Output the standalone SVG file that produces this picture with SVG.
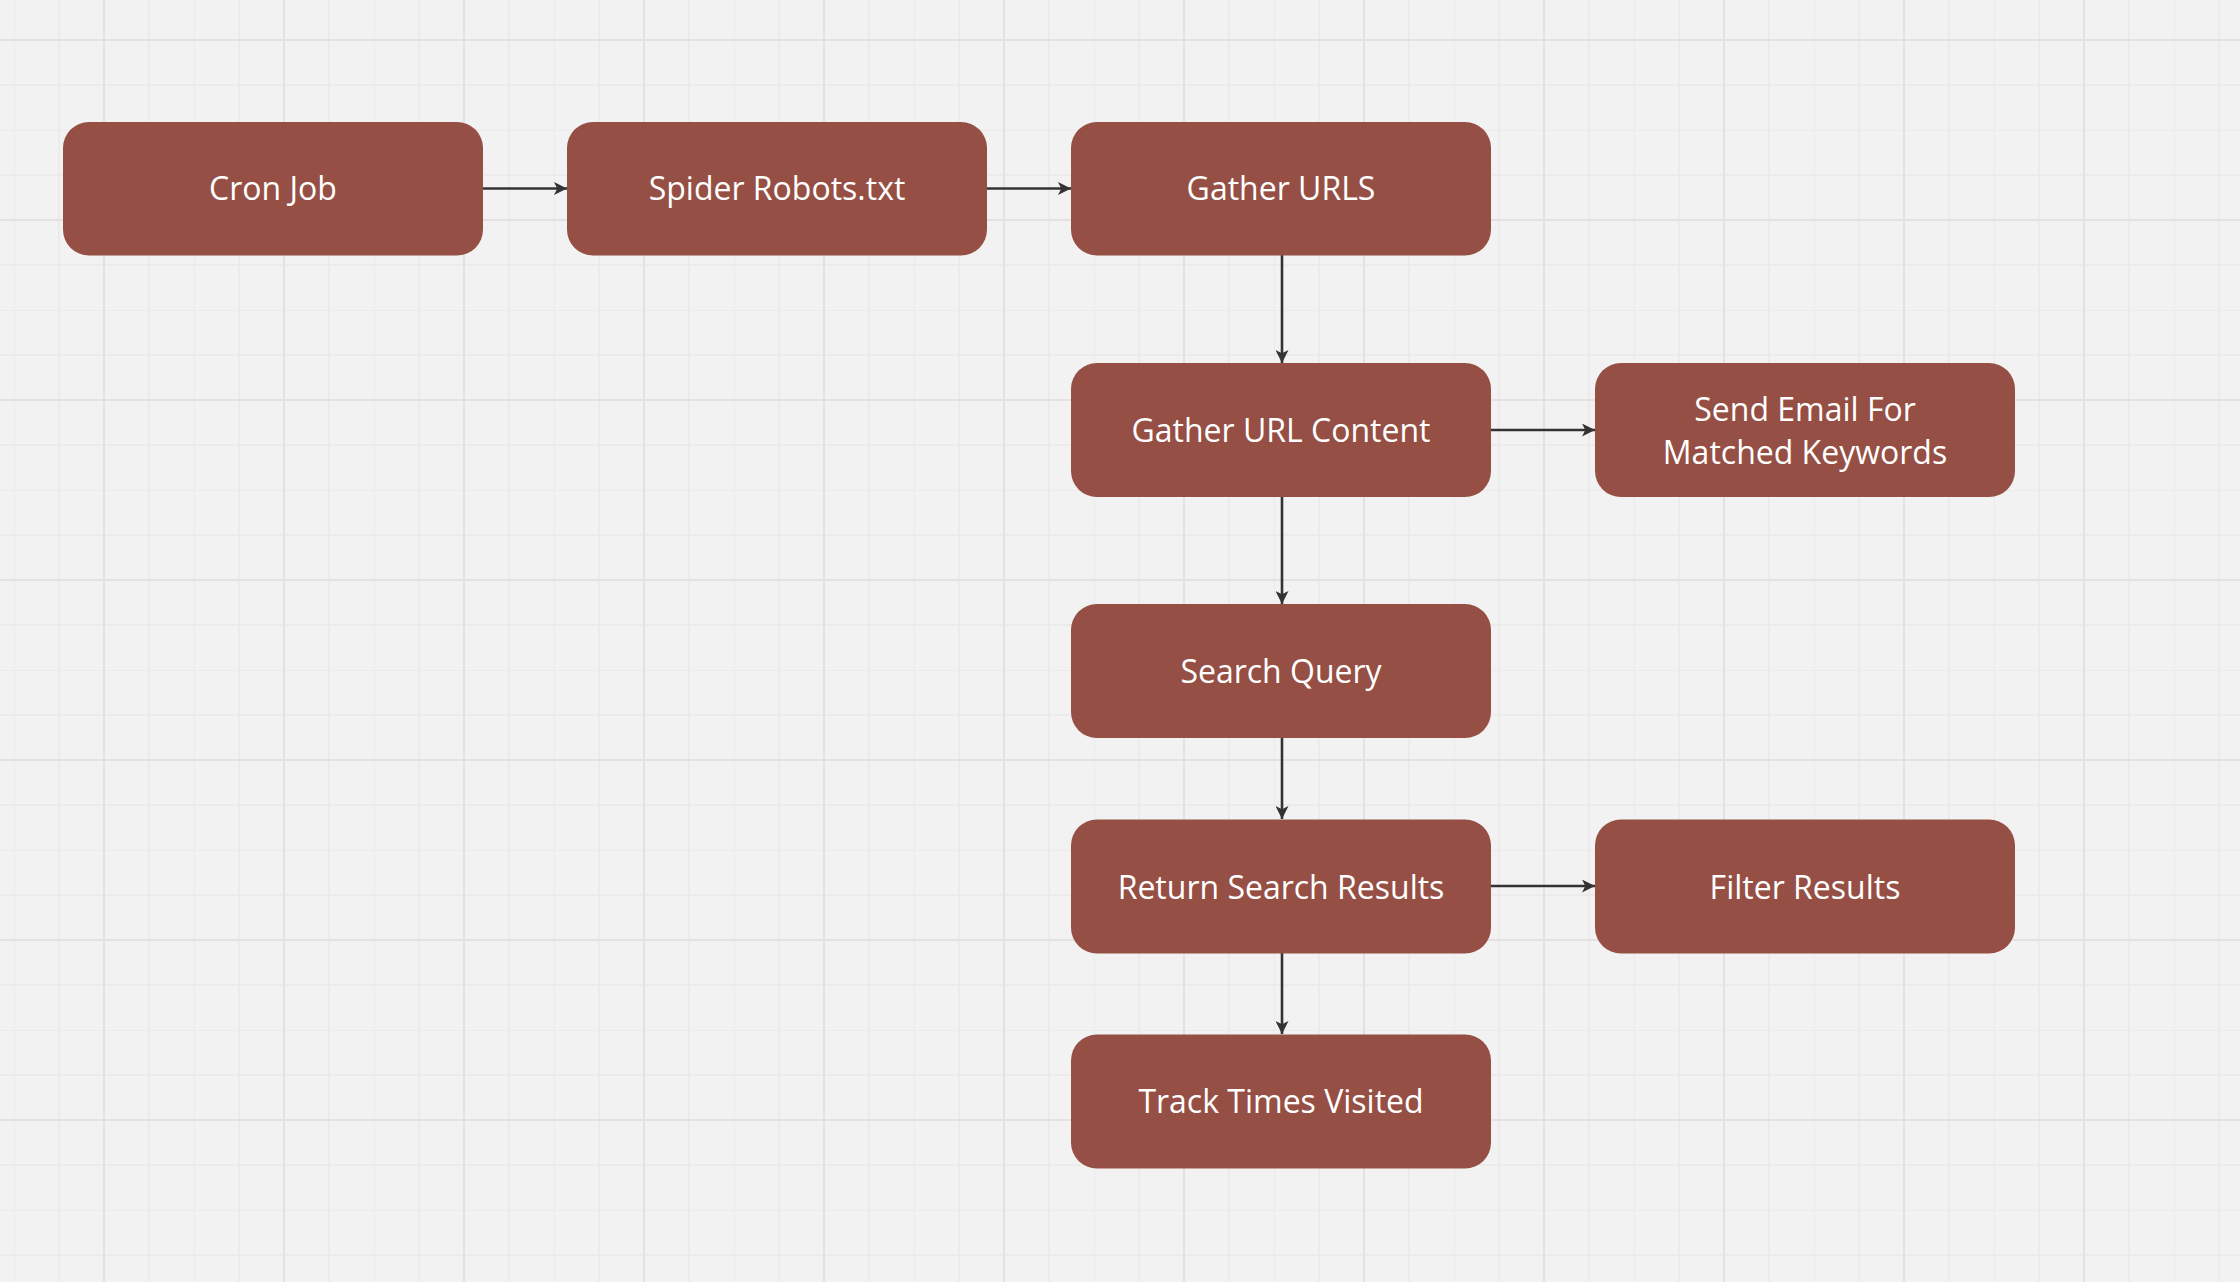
<svg xmlns="http://www.w3.org/2000/svg" width="2240" height="1282" viewBox="0 0 2240 1282">
<style>
.node rect{fill:#964f44;}
.node text{font-family:"Open Sans","Noto Sans","Liberation Sans",sans-serif;font-size:32px;fill:#ffffff;text-anchor:middle;}
.edge{stroke:#333333;stroke-width:2.6;fill:none;}
</style>
<defs>
<pattern id="grid" x="14" y="-50" width="180" height="180" patternUnits="userSpaceOnUse">
<g stroke="#e8e8e8" stroke-width="1.3">
<line x1="0" y1="0" x2="0" y2="180"/><line x1="45" y1="0" x2="45" y2="180"/><line x1="135" y1="0" x2="135" y2="180"/>
<line x1="0" y1="0" x2="180" y2="0"/><line x1="0" y1="45" x2="180" y2="45"/><line x1="0" y1="135" x2="180" y2="135"/>
</g>
<g stroke="#e2e2e2" stroke-width="2">
<line x1="90" y1="0" x2="90" y2="180"/><line x1="0" y1="90" x2="180" y2="90"/>
</g>
</pattern>
<marker id="arrow" viewBox="0 0 10 10" refX="10" refY="5" markerWidth="13" markerHeight="13" markerUnits="userSpaceOnUse" orient="auto">
<path d="M0,0 L10,5 L0,10 L2.5,5 Z" fill="#333333"/>
</marker>
</defs>
<rect width="2240" height="1282" fill="#f2f2f2"/>
<rect width="2240" height="1282" fill="url(#grid)"/>
<g id="connectors">
<line class="edge" x1="483" y1="188.5" x2="567" y2="188.5" marker-end="url(#arrow)"/>
<line class="edge" x1="987" y1="188.5" x2="1071" y2="188.5" marker-end="url(#arrow)"/>
<line class="edge" x1="1282" y1="255" x2="1282" y2="363" marker-end="url(#arrow)"/>
<line class="edge" x1="1491" y1="430" x2="1595" y2="430" marker-end="url(#arrow)"/>
<line class="edge" x1="1282" y1="497" x2="1282" y2="604" marker-end="url(#arrow)"/>
<line class="edge" x1="1282" y1="738" x2="1282" y2="819" marker-end="url(#arrow)"/>
<line class="edge" x1="1491" y1="886" x2="1595" y2="886" marker-end="url(#arrow)"/>
<line class="edge" x1="1282" y1="953" x2="1282" y2="1034" marker-end="url(#arrow)"/>
</g>
<g id="cron-job" class="node"><rect x="63" y="122" width="420" height="133.5" rx="26"/><text x="273" y="200">Cron Job</text></g>
<g id="spider-robots" class="node"><rect x="567" y="122" width="420" height="133.5" rx="26"/><text x="777" y="200">Spider Robots.txt</text></g>
<g id="gather-urls" class="node"><rect x="1071" y="122" width="420" height="133.5" rx="26"/><text x="1281" y="200">Gather URLS</text></g>
<g id="gather-url-content" class="node"><rect x="1071" y="363" width="420" height="134" rx="26"/><text x="1281" y="442">Gather URL Content</text></g>
<g id="send-email" class="node"><rect x="1595" y="363" width="420" height="134" rx="26"/><text x="1805" y="420.5">Send Email For</text><text x="1805" y="463.5">Matched Keywords</text></g>
<g id="search-query" class="node"><rect x="1071" y="604" width="420" height="134" rx="26"/><text x="1281" y="683">Search Query</text></g>
<g id="return-search-results" class="node"><rect x="1071" y="819.5" width="420" height="134" rx="26"/><text x="1281" y="899">Return Search Results</text></g>
<g id="filter-results" class="node"><rect x="1595" y="819.5" width="420" height="134" rx="26"/><text x="1805" y="899">Filter Results</text></g>
<g id="track-times-visited" class="node"><rect x="1071" y="1034.5" width="420" height="134" rx="26"/><text x="1281" y="1113">Track Times Visited</text></g>
</svg>
